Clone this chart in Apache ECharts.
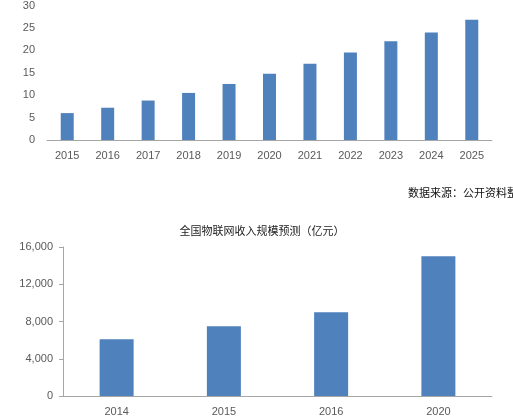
<!DOCTYPE html>
<html><head><meta charset="utf-8">
<script src="https://cdn.jsdelivr.net/npm/echarts@6/dist/echarts.min.js"></script>
<style>html,body{margin:0;padding:0;background:#fff}#main{width:513px;height:417px}</style>
</head><body><div id="main"></div>
<script>
var topYears = ['2015','2016','2017','2018','2019','2020','2021','2022','2023','2024','2025'];
var topValues = [6, 7.2, 8.8, 10.5, 12.5, 14.8, 17, 19.5, 22, 24, 26.8];
var bottomYears = ['2014','2015','2016','2020'];
var bottomValues = [6100, 7500, 9000, 15000];
var bottomTitle = '全国物联网收入规模预测（亿元）';
var sourceText = '数据来源：公开资料整理';

var axisGray = '#a6a6a6';
var labelGray = '#595959';
var barBlue = '#4f81bd';

var chart = echarts.init(document.getElementById('main'));
chart.setOption({
    animation: false,
    title: {
        text: bottomTitle, left: 257, top: 220, textAlign: 'center',
        textStyle: {fontSize: 11, fontWeight: 'normal', color: '#222', fontFamily: 'Noto Sans CJK SC'}
    },
    graphic: [{
        type: 'text', left: 408, top: 187,
        style: {text: sourceText, fontSize: 11, fill: '#111', fontFamily: 'Noto Sans CJK SC'}
    }],
    grid: [
        {left: 47, width: 445, top: -8, height: 148},
        {left: 63, width: 429, top: 247, height: 154}
    ],
    xAxis: [
        {gridIndex: 0, type: 'category', data: topYears,
         axisLine: {lineStyle: {color: axisGray}}, axisTick: {lineStyle: {color: axisGray}, length: 3},
         axisLabel: {color: labelGray, fontSize: 11, margin: 10}},
        {gridIndex: 1, type: 'category', data: bottomYears,
         axisLine: {lineStyle: {color: axisGray}}, axisTick: {lineStyle: {color: axisGray}, length: 4},
         axisLabel: {color: labelGray, fontSize: 11, margin: 10}}
    ],
    yAxis: [
        {gridIndex: 0, type: 'value', min: 0, max: 30, interval: 5,
         axisLine: {show: false}, axisTick: {show: false}, splitLine: {show: false},
         axisLabel: {color: labelGray, fontSize: 11, margin: 12}},
        {gridIndex: 1, type: 'value', min: 0, max: 16000, interval: 4000,
         axisLine: {show: true, lineStyle: {color: axisGray}},
         axisTick: {show: true, lineStyle: {color: axisGray}, length: 4},
         splitLine: {show: false},
         axisLabel: {color: labelGray, fontSize: 11, margin: 10}}
    ],
    series: [
        {type: 'bar', xAxisIndex: 0, yAxisIndex: 0, data: topValues, barWidth: 13, itemStyle: {color: barBlue}},
        {type: 'bar', xAxisIndex: 1, yAxisIndex: 1, data: bottomValues, barWidth: 34, itemStyle: {color: barBlue}}
    ]
});
</script></body></html>
